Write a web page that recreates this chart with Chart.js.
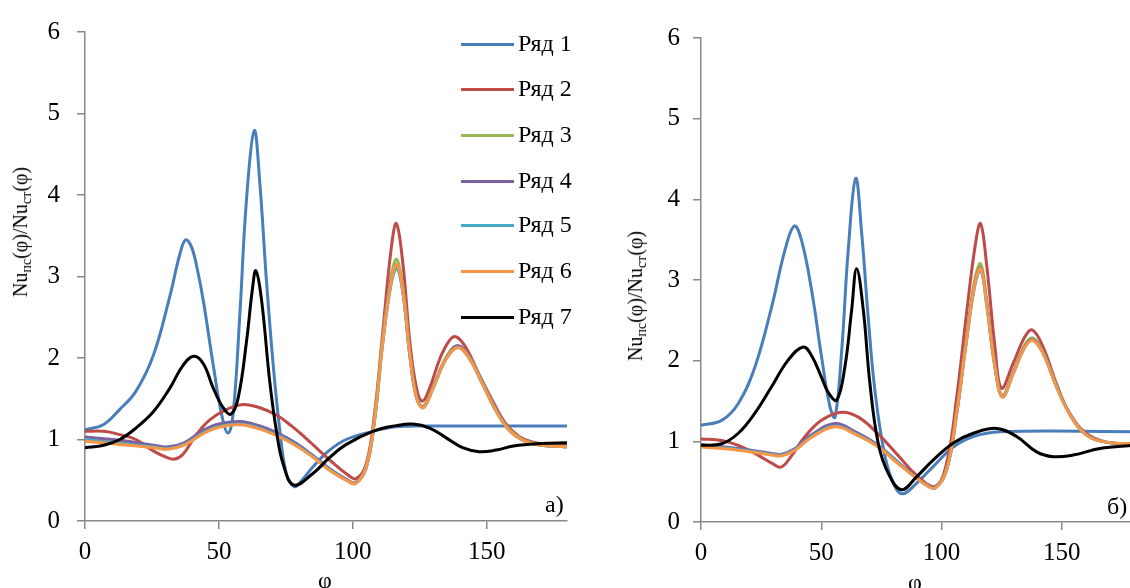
<!DOCTYPE html>
<html>
<head>
<meta charset="utf-8">
<script src="https://cdn.jsdelivr.net/npm/chart.js@4/dist/chart.umd.min.js"></script>
<style>
  html, body { margin:0; padding:0; background:#fff; }
  body { width:1130px; height:588px; overflow:hidden; position:relative; font-family:'Liberation Serif','Times New Roman',serif; }
  canvas { position:absolute; top:0; }
  .ytitle { position:absolute; white-space:nowrap; font-size:20px; color:#000; transform:translate(-50%,-50%) rotate(-90deg); line-height:1; }
  .ytitle sub { font-size:14px; vertical-align:-4px; }
  .txt { position:absolute; white-space:nowrap; color:#000; line-height:1; }
  .leg { position:absolute; height:0; }
  .leg .ln { position:absolute; left:0; top:-1.5px; width:53px; height:3px; }
  .leg .lb { position:absolute; left:57px; top:-13px; font-size:24px; line-height:1; white-space:nowrap; color:#000; }
</style>
</head>
<body>
<canvas id="chartA" width="600" height="588" style="left:0"></canvas>
<canvas id="chartB" width="540" height="588" style="left:600px"></canvas>

<div class="ytitle" style="left:22px; top:232px;">Nu<sub>пс</sub>(φ)/Nu<sub>ст</sub>(φ)</div>
<div class="ytitle" style="left:637px; top:296px;">Nu<sub>пс</sub>(φ)/Nu<sub>ст</sub>(φ)</div>
<div class="txt" style="left:318px; top:568px; font-size:24px;">φ</div>
<div class="txt" style="left:908px; top:570px; font-size:24px;">φ</div>
<div class="txt" style="left:545px; top:492px; font-size:24px;">а)</div>
<div class="txt" style="left:1107px; top:494px; font-size:24px;">б)</div>
<div id="legend"></div>

<script>
// ---------- labels ----------
const seriesNames = ['Ряд 1','Ряд 2','Ряд 3','Ряд 4','Ряд 5','Ряд 6','Ряд 7'];
const seriesColors = ['#4a7ebb','#be4b48','#98b954','#7d60a0','#46aac5','#f79646','#000000'];
const yTicks = [0,1,2,3,4,5,6];
const xTicks = [0,50,100,150];

// ---------- chart а) ----------
const a1Phi = [0,6.8,13,19,25.5,31.7,35.4,37.6,39.8,42,44.2,47.9,51,53.4,55.3,57.8,60.3,63.2,65.3,67.8,70.3,72.8,75.2,78.2,81,85,91,97.5,107.5,116,128,180];
const a1Val = [1.12,1.18,1.37,1.59,2.03,2.76,3.27,3.45,3.36,3.08,2.70,1.91,1.31,1.08,1.31,2.52,3.94,4.79,4.14,2.93,1.91,1.10,0.58,0.42,0.50,0.66,0.86,1.0,1.10,1.155,1.165,1.165];

const a2Phi = [0,7,13,19,25.5,30.5,33.5,36.6,41.6,46.6,52.9,59,65.3,71.5,77,82,87,92,97.6,101.3,105,108.1,111.2,114.3,116.3,118.8,121.3,123.8,126,128.7,132.5,136.2,138.7,142.4,147.3,152.3,157,162,167,173,180];
const a2Val = [1.10,1.10,1.06,1.0,0.86,0.78,0.76,0.82,1.06,1.24,1.37,1.43,1.39,1.30,1.17,1.03,0.88,0.73,0.58,0.52,0.70,1.31,2.32,3.33,3.65,3.13,2.20,1.63,1.47,1.63,1.99,2.22,2.26,2.12,1.79,1.47,1.20,1.04,0.97,0.94,0.93];

const a3Phi = [0,13,25.5,31,37,44,50,57.8,65,72,79,85.2,91.4,97.6,101,105,108.1,111.2,114.3,116.4,118.8,121.3,123.8,126.3,130,134.9,139.2,143.6,148.6,153.5,158,163,168,174,180];
const a3Val = [1.0,0.96,0.91,0.89,0.95,1.09,1.17,1.20,1.15,1.06,0.93,0.79,0.63,0.51,0.47,0.67,1.26,2.25,3.0,3.21,2.85,2.07,1.53,1.40,1.65,2.01,2.15,2.01,1.69,1.37,1.14,1.01,0.95,0.92,0.91];

const a4Phi = [0,13,25.5,31,37,44,50,57.8,65,72,79,85.2,91.4,97.6,101,105,108.1,111.2,114.3,116.5,118.8,121.3,123.8,126.3,130,134.9,139.3,143.6,148.6,153.5,158,163,168,174,180];
const a4Val = [1.03,0.99,0.93,0.91,0.96,1.11,1.19,1.22,1.17,1.08,0.95,0.80,0.64,0.51,0.47,0.66,1.24,2.21,2.95,3.12,2.79,2.04,1.52,1.40,1.64,2.0,2.15,2.0,1.68,1.36,1.13,1.0,0.94,0.92,0.91];

const a5Phi = [0,13,25.5,31,37,44,50,57.8,65,72,79,85.2,91.4,97.6,101,105,108.1,111.2,114.3,116.5,118.8,121.3,123.8,126.3,130,134.9,139.3,143.6,148.6,153.5,158,163,168,174,180];
const a5Val = [1.0,0.95,0.91,0.89,0.94,1.08,1.16,1.19,1.14,1.05,0.93,0.79,0.63,0.50,0.46,0.65,1.22,2.18,2.90,3.10,2.78,2.03,1.51,1.39,1.63,1.99,2.13,1.99,1.67,1.35,1.13,1.0,0.94,0.92,0.91];

const a6Phi = [0,13,25.5,31,37,44,50,57.8,65,72,79,85.2,91.4,97.6,101,105,108.1,111.2,114.3,116.5,118.8,121.3,123.8,126.3,130,134.9,139.3,143.6,148.6,153.5,158,163,168,174,180];
const a6Val = [0.98,0.94,0.90,0.88,0.93,1.07,1.15,1.18,1.13,1.04,0.92,0.78,0.62,0.50,0.46,0.66,1.23,2.20,2.93,3.15,2.80,2.04,1.51,1.39,1.63,1.99,2.13,1.99,1.67,1.35,1.13,1.0,0.94,0.92,0.91];

const a7Phi = [0,7,13,19,25.5,31.7,36.6,40.6,44.2,47.9,51.6,54.5,57.2,60.3,62.5,63.8,65.9,69,71.5,74,78,85,91.4,97.6,107.5,116.3,122.5,128.7,134.9,141,147.3,153.5,160,170,180];
const a7Val = [0.90,0.93,1.0,1.14,1.34,1.63,1.91,2.02,1.93,1.63,1.39,1.31,1.51,2.20,2.84,3.07,2.72,1.71,1.10,0.70,0.44,0.58,0.78,0.94,1.10,1.17,1.19,1.14,1.02,0.90,0.85,0.87,0.92,0.95,0.96];

// ---------- chart б) ----------
const b1Phi = [0,8.6,15.5,22.4,29.4,34.9,38.8,41.8,46,50.1,53.6,55.7,58.5,61.2,64.3,66.8,69.5,72.3,76.5,80.6,84,89.6,96.6,104.9,113.2,124.3,180];
const b1Val = [1.20,1.26,1.47,1.92,2.67,3.37,3.67,3.49,2.87,2.05,1.43,1.30,2.13,3.37,4.26,3.58,2.54,1.63,0.81,0.44,0.35,0.48,0.69,0.93,1.06,1.12,1.12];

const b2Phi = [0,8.6,15.5,22.4,29.4,33.2,37.4,43,50.1,58.5,65.4,73.7,82.7,89.6,97.3,102.1,106.3,110.4,113.9,116.2,118.7,122.2,124.9,129.8,134.7,137.8,142.2,147.7,153.2,160.1,168.4,180];
const b2Val = [1.03,1.01,0.95,0.85,0.73,0.68,0.81,1.05,1.26,1.36,1.30,1.09,0.80,0.58,0.44,0.73,1.55,2.59,3.41,3.70,3.20,2.17,1.66,1.97,2.30,2.38,2.17,1.72,1.34,1.10,0.99,0.97];

const b3Phi = [0,15.5,29.4,33.6,39.1,46,55.7,64,73.7,82,88.9,93,97.3,102.1,106.3,110.4,113.9,116.3,118.7,122.2,125.3,129.8,134.7,138.1,142.2,147.7,153.2,160.1,168.4,180];
const b3Val = [0.95,0.90,0.84,0.83,0.90,1.07,1.20,1.11,0.94,0.73,0.57,0.48,0.43,0.66,1.38,2.30,3.02,3.20,2.76,1.95,1.57,1.86,2.20,2.28,2.11,1.70,1.35,1.09,0.99,0.97];

const b4Phi = [0,15.5,29.4,33.6,39.1,46,55.7,64,73.7,82,88.9,93,97.3,102.1,106.3,110.4,113.9,116.3,118.7,122.2,125.3,129.8,134.7,138.1,142.2,147.7,153.2,160.1,168.4,180];
const b4Val = [0.96,0.91,0.85,0.84,0.91,1.08,1.22,1.12,0.95,0.74,0.57,0.48,0.43,0.65,1.36,2.27,2.97,3.15,2.73,1.93,1.56,1.85,2.18,2.26,2.10,1.69,1.35,1.09,0.99,0.97];

const b5Phi = [0,15.5,29.4,33.6,39.1,46,55.7,64,73.7,82,88.9,93,97.3,102.1,106.3,110.4,113.9,116.3,118.7,122.2,125.3,129.8,134.7,138.1,142.2,147.7,153.2,160.1,168.4,180];
const b5Val = [0.94,0.90,0.84,0.83,0.90,1.06,1.19,1.10,0.94,0.73,0.56,0.47,0.42,0.64,1.34,2.25,2.94,3.12,2.70,1.92,1.55,1.84,2.17,2.25,2.09,1.68,1.34,1.08,0.99,0.97];

const b6Phi = [0,15.5,29.4,33.6,39.1,46,55.7,64,73.7,82,88.9,93,97.3,102.1,106.3,110.4,113.9,116.3,118.7,122.2,125.3,129.8,134.7,138.1,142.2,147.7,153.2,160.1,168.4,180];
const b6Val = [0.93,0.89,0.83,0.82,0.89,1.05,1.18,1.09,0.93,0.72,0.56,0.47,0.42,0.65,1.35,2.26,2.96,3.14,2.71,1.92,1.55,1.84,2.17,2.25,2.09,1.68,1.34,1.08,0.99,0.97];

const b7Phi = [0,8.6,15.5,22.4,29.4,36.3,42.5,46,50,53,56.4,59.8,62.6,64.7,67.5,70.2,73.7,77.9,83.4,89.6,96.6,104.9,113.2,122.9,131.2,139.5,146.4,154.7,165.8,180];
const b7Val = [0.95,0.97,1.10,1.35,1.68,2.01,2.17,2.06,1.80,1.60,1.51,1.92,2.62,3.14,2.62,1.72,0.97,0.60,0.40,0.56,0.77,0.98,1.10,1.16,1.06,0.87,0.81,0.83,0.91,0.95];

const seriesA = [[a1Phi,a1Val],[a2Phi,a2Val],[a3Phi,a3Val],[a4Phi,a4Val],[a5Phi,a5Val],[a6Phi,a6Val],[a7Phi,a7Val]];
const seriesB = [[b1Phi,b1Val],[b2Phi,b2Val],[b3Phi,b3Val],[b4Phi,b4Val],[b5Phi,b5Val],[b6Phi,b6Val],[b7Phi,b7Val]];

// ---------- drawing ----------
const AXIS = '#898989';
const FONT = 'Liberation Serif';

function makeChart(id, series, cfg) {
  const datasets = series.map((s, i) => ({
    label: seriesNames[i],
    data: s[0].map((p, k) => ({x: p, y: s[1][k]})),
    borderColor: seriesColors[i],
    backgroundColor: seriesColors[i],
    borderWidth: 3,
    pointRadius: 0,
    fill: false,
    tension: 0.4,
    order: series.length - 1 - i
  }));
  return new Chart(document.getElementById(id), {
    type: 'line',
    data: { datasets },
    options: {
      responsive: false,
      animation: false,
      events: [],
      layout: { padding: { left: 0, top: cfg.top, right: cfg.right, bottom: 0 } },
      plugins: { legend: { display: false }, tooltip: { enabled: false } },
      scales: {
        x: {
          type: 'linear', min: 0, max: 180,
          afterFit: s => { s.height = cfg.xH; },
          afterBuildTicks: s => { s.ticks = xTicks.map(v => ({value: v})); },
          ticks: { font: { family: FONT, size: 25 }, color: '#000', padding: cfg.xPad, maxRotation: 0 },
          grid: { display: true, drawOnChartArea: false, drawTicks: true, tickLength: 8, color: AXIS, lineWidth: 1.5 },
          border: { display: true, color: AXIS, width: 1.5 }
        },
        y: {
          type: 'linear', min: 0, max: 6,
          afterFit: s => { s.width = cfg.yW; },
          afterBuildTicks: s => { s.ticks = yTicks.map(v => ({value: v})); },
          ticks: { font: { family: FONT, size: 25 }, color: '#000', padding: cfg.yPad },
          grid: { display: true, drawOnChartArea: false, drawTicks: true, tickLength: 8, color: AXIS, lineWidth: 1.5 },
          border: { display: true, color: AXIS, width: 1.5 }
        }
      }
    }
  });
}

makeChart('chartA', seriesA, { top: 27, right: 33, xH: 67, yW: 85, xPad: 8, yPad: 17 });
makeChart('chartB', seriesB, { top: 38, right: 6, xH: 66, yW: 101, xPad: 8, yPad: 13 });

// legend (chart а)
const legY = [44, 89, 135, 181, 225, 271, 317];
const legend = document.getElementById('legend');
seriesNames.forEach((n, i) => {
  const d = document.createElement('div');
  d.className = 'leg';
  d.style.left = '461px';
  d.style.top = legY[i] + 'px';
  d.innerHTML = '<div class="ln" style="background:' + seriesColors[i] + '"></div><div class="lb">' + n + '</div>';
  legend.appendChild(d);
});
</script>
</body>
</html>
